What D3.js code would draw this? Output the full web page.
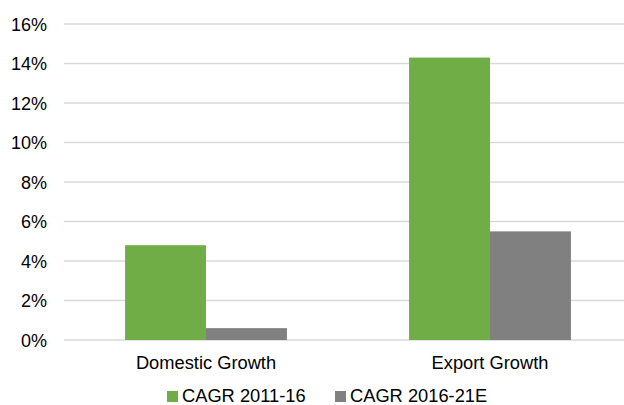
<!DOCTYPE html>
<html>
<head>
<meta charset="utf-8">
<script src="https://cdn.jsdelivr.net/npm/d3@7"></script>
<style>
  html, body { margin: 0; padding: 0; background: #fff; }
  svg { display: block; font-family: "Liberation Sans", Arial, sans-serif; }
</style>
</head>
<body>
<svg id="chart" width="624" height="405"></svg>
<script>
// Compound annual growth rates (%) by market
const categories = ["Domestic Growth", "Export Growth"];
const seriesNames = ["CAGR 2011-16", "CAGR 2016-21E"];
const cagr2011_16 = [4.8, 14.3];
const cagr2016_21E = [0.6, 5.5];
const yTicks = [0, 2, 4, 6, 8, 10, 12, 14, 16];
const colors = ["#70ad47", "#808080"];

const svg = d3.select("#chart");
const W = 624;
const plot = { left: 64, right: 632, top: 24, bottom: 340 };

const y = d3.scaleLinear().domain([0, 16]).range([plot.bottom, plot.top]);
const x0 = d3.scaleBand().domain(categories)
  .range([plot.left, plot.right])
  .paddingInner(0.43).paddingOuter(0.215);
const x1 = d3.scaleBand().domain(seriesNames).range([0, x0.bandwidth()]);

// Horizontal gridlines
svg.append("g").selectAll("line").data(yTicks).join("line")
  .attr("x1", plot.left).attr("x2", W)
  .attr("y1", d => y(d)).attr("y2", d => y(d))
  .attr("stroke", "#d9d9d9").attr("stroke-width", 1.5);

// Y axis labels
const yAxis = d3.axisLeft(y).tickValues(yTicks).tickFormat(d => d + "%").tickSize(0).tickPadding(0);
const gy = svg.append("g").attr("transform", `translate(47,0)`).call(yAxis);
gy.select(".domain").remove();
gy.selectAll("text").attr("font-size", 18).attr("fill", "#000")
  .attr("font-family", "'Liberation Sans', Arial, sans-serif").attr("dy", "0.35em");

// Bars
const rows = categories.map((c, i) => ({ cat: c, vals: [cagr2011_16[i], cagr2016_21E[i]] }));
const groups = svg.append("g").selectAll("g").data(rows).join("g")
  .attr("transform", d => `translate(${x0(d.cat)},0)`);
groups.selectAll("rect").data(d => d.vals.map((v, j) => ({ s: seriesNames[j], v, j })))
  .join("rect")
  .attr("x", d => x1(d.s))
  .attr("width", x1.bandwidth())
  .attr("y", d => y(d.v))
  .attr("height", d => y(0) - y(d.v))
  .attr("fill", d => colors[d.j]);

// Category labels
const xAxis = d3.axisBottom(x0).tickSize(0).tickPadding(0);
const gx = svg.append("g").attr("transform", `translate(0,${plot.bottom})`).call(xAxis);
gx.select(".domain").remove();
gx.selectAll("text").attr("font-size", 18.3).attr("fill", "#000")
  .attr("font-family", "'Liberation Sans', Arial, sans-serif")
  .attr("dy", null).attr("y", 29);

// Legend
const legendX = [167, 335];
const legend = svg.append("g").selectAll("g").data(seriesNames).join("g")
  .attr("transform", (d, i) => `translate(${legendX[i]},0)`);
legend.append("rect").attr("x", 0).attr("y", 391).attr("width", 11).attr("height", 11)
  .attr("fill", (d, i) => colors[i]);
legend.append("text").attr("x", 15).attr("y", 401.5)
  .attr("font-size", 18.3).attr("fill", "#000").text(d => d);
</script>
</body>
</html>
